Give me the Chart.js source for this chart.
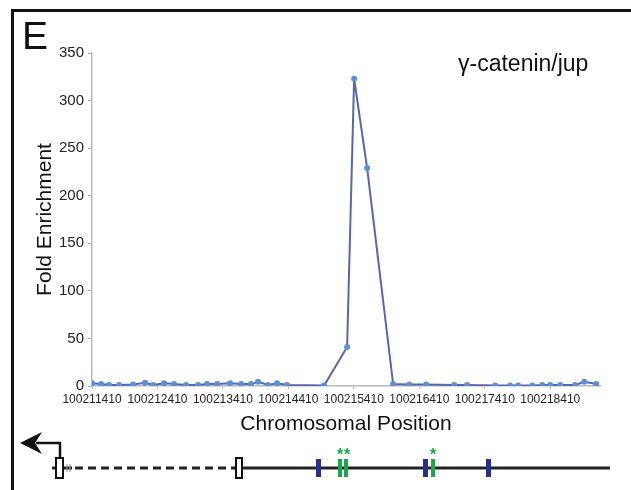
<!DOCTYPE html>
<html>
<head>
<meta charset="utf-8">
<script src="https://cdn.jsdelivr.net/npm/chart.js@4/dist/chart.umd.min.js"></script>
<style>
  body { margin: 0; background: #fff; }
  #wrap { position: relative; width: 631px; height: 490px; overflow: hidden; }
  #frame { position: absolute; left: 11px; top: 9px; right: -10px; bottom: -10px; border-top: 3px solid #111; border-left: 3px solid #111; }
  #panel { position: absolute; left: 22px; top: 14px; font: 39px "Liberation Sans", Arial, sans-serif; color: #111; }
  #gene { position: absolute; left: 458px; top: 50px; font: 23px "Liberation Sans", Arial, sans-serif; color: #111; }
  canvas { position: absolute; left: 0; top: 0; }
</style>
</head>
<body>
<div id="wrap">
  <canvas id="chart" width="631" height="490"></canvas>
  <div id="frame"></div>
  <div id="panel">E</div>
  <div id="gene">γ-catenin/jup</div>
</div>
<script>
// chromosomal positions of each probe and fold enrichment
const positions = [
    100211410, 100211548, 100211670, 100211823, 100212037, 100212220, 100212342, 100212510,
    100212663, 100212847, 100213030, 100213168, 100213320, 100213519, 100213687, 100213840,
    100213947, 100214100, 100214237, 100214390, 100214956, 100215307, 100215414, 100215613,
    100216010, 100216255, 100216515, 100216943, 100217141, 100217569, 100217798, 100217921,
    100218135, 100218288, 100218410, 100218563, 100218792, 100218929, 100219113
];
const foldEnrichment = [
    3, 2, 1, 1, 1.5, 3.5, 1, 3,
    2, 1, 1, 2, 2, 3, 2, 2,
    4.5, 1, 3, 1, 0.5, 41, 323, 229,
    2, 1.5, 1.5, 1, 1, 0.5, 0.5, 0.5,
    0.5, 1, 1, 1, 1, 4.5, 2
];
const xTicks = [100211410, 100212410, 100213410, 100214410, 100215410, 100216410, 100217410, 100218410];
const yTicks = [0, 50, 100, 150, 200, 250, 300, 350];

const FONT = '"Liberation Sans", Arial, sans-serif';

// gene model drawn under the axis
const geneDiagram = {
    id: 'geneDiagram',
    afterDraw(chart) {
        const ctx = chart.ctx;
        ctx.save();
        const y = 468;

        // transcription start arrow
        ctx.strokeStyle = '#111';
        ctx.lineWidth = 2.5;
        ctx.beginPath();
        ctx.moveTo(60, 460);
        ctx.lineTo(60, 443);
        ctx.lineTo(36, 443);
        ctx.stroke();
        ctx.fillStyle = '#111';
        ctx.beginPath();
        ctx.moveTo(20, 443);
        ctx.lineTo(42, 432);
        ctx.lineTo(35, 443);
        ctx.lineTo(42, 454);
        ctx.closePath();
        ctx.fill();

        // backbone
        ctx.lineWidth = 3;
        ctx.strokeStyle = '#222';
        ctx.beginPath();
        ctx.moveTo(52, y);
        ctx.lineTo(72, y);
        ctx.moveTo(242, y);
        ctx.lineTo(610, y);
        ctx.stroke();
        ctx.setLineDash([8, 5]);
        ctx.beginPath();
        ctx.moveTo(75, y);
        ctx.lineTo(236, y);
        ctx.stroke();
        ctx.setLineDash([]);

        // break mark
        ctx.strokeStyle = '#999';
        ctx.lineWidth = 1.2;
        ctx.beginPath();
        ctx.moveTo(67, y - 4);
        ctx.lineTo(67, y + 4);
        ctx.moveTo(70, y - 4);
        ctx.lineTo(70, y + 4);
        ctx.stroke();

        // exon boxes
        ctx.fillStyle = '#fff';
        ctx.strokeStyle = '#111';
        ctx.lineWidth = 2;
        [[56, 7], [236, 6]].forEach(([x, w]) => {
            ctx.fillRect(x, y - 10, w, 20);
            ctx.strokeRect(x, y - 10, w, 20);
        });

        // TCF sites
        ctx.fillStyle = '#2b2f8c';
        [316, 423, 486].forEach(x => ctx.fillRect(x, y - 9, 5, 18));
        ctx.fillStyle = '#1aa64b';
        [338, 344, 431].forEach(x => ctx.fillRect(x, y - 9, 4, 18));
        ctx.font = 'bold 16px ' + FONT;
        ctx.textAlign = 'center';
        ctx.textBaseline = 'middle';
        [340, 347, 433].forEach(x => ctx.fillText('*', x, 456));

        ctx.restore();
    }
};

new Chart(document.getElementById('chart'), {
    type: 'line',
    data: {
        datasets: [{
            data: positions.map((p, i) => ({ x: p, y: foldEnrichment[i] })),
            borderColor: '#5866aa',
            borderWidth: 2,
            pointRadius: 3,
            pointBackgroundColor: '#5b8fd8',
            pointBorderWidth: 0,
            tension: 0
        }]
    },
    options: {
        responsive: false,
        animation: false,
        devicePixelRatio: 1,
        layout: { padding: { left: 0, top: 53, right: 31, bottom: 53 } },
        plugins: { legend: { display: false }, tooltip: { enabled: false } },
        scales: {
            x: {
                type: 'linear',
                min: 100211410,
                max: 100219170,
                afterFit: scale => { scale.height = 51; },
                afterBuildTicks: scale => { scale.ticks = xTicks.map(v => ({ value: v })); },
                ticks: {
                    callback: v => String(v),
                    color: '#222',
                    font: { family: FONT, size: 12 },
                    padding: 3,
                    maxRotation: 0,
                    autoSkip: false
                },
                grid: { drawOnChartArea: false, tickLength: 3, color: '#bbb' },
                border: { color: '#b8b8b8', width: 1.5 },
                title: {
                    display: true,
                    text: 'Chromosomal Position',
                    color: '#111',
                    font: { family: FONT, size: 21 },
                    padding: { top: 0, bottom: 0 }
                }
            },
            y: {
                min: 0,
                max: 350,
                afterFit: scale => { scale.width = 92; },
                afterBuildTicks: scale => { scale.ticks = yTicks.map(v => ({ value: v })); },
                ticks: {
                    color: '#222',
                    font: { family: FONT, size: 15 },
                    padding: 4
                },
                grid: { drawOnChartArea: false, tickLength: 4, color: '#aaa' },
                border: { color: '#b8b8b8', width: 1.5 },
                title: {
                    display: true,
                    text: 'Fold Enrichment',
                    color: '#111',
                    font: { family: FONT, size: 21 },
                    padding: { top: 33, bottom: 0 }
                }
            }
        }
    },
    plugins: [geneDiagram]
});
</script>
</body>
</html>
